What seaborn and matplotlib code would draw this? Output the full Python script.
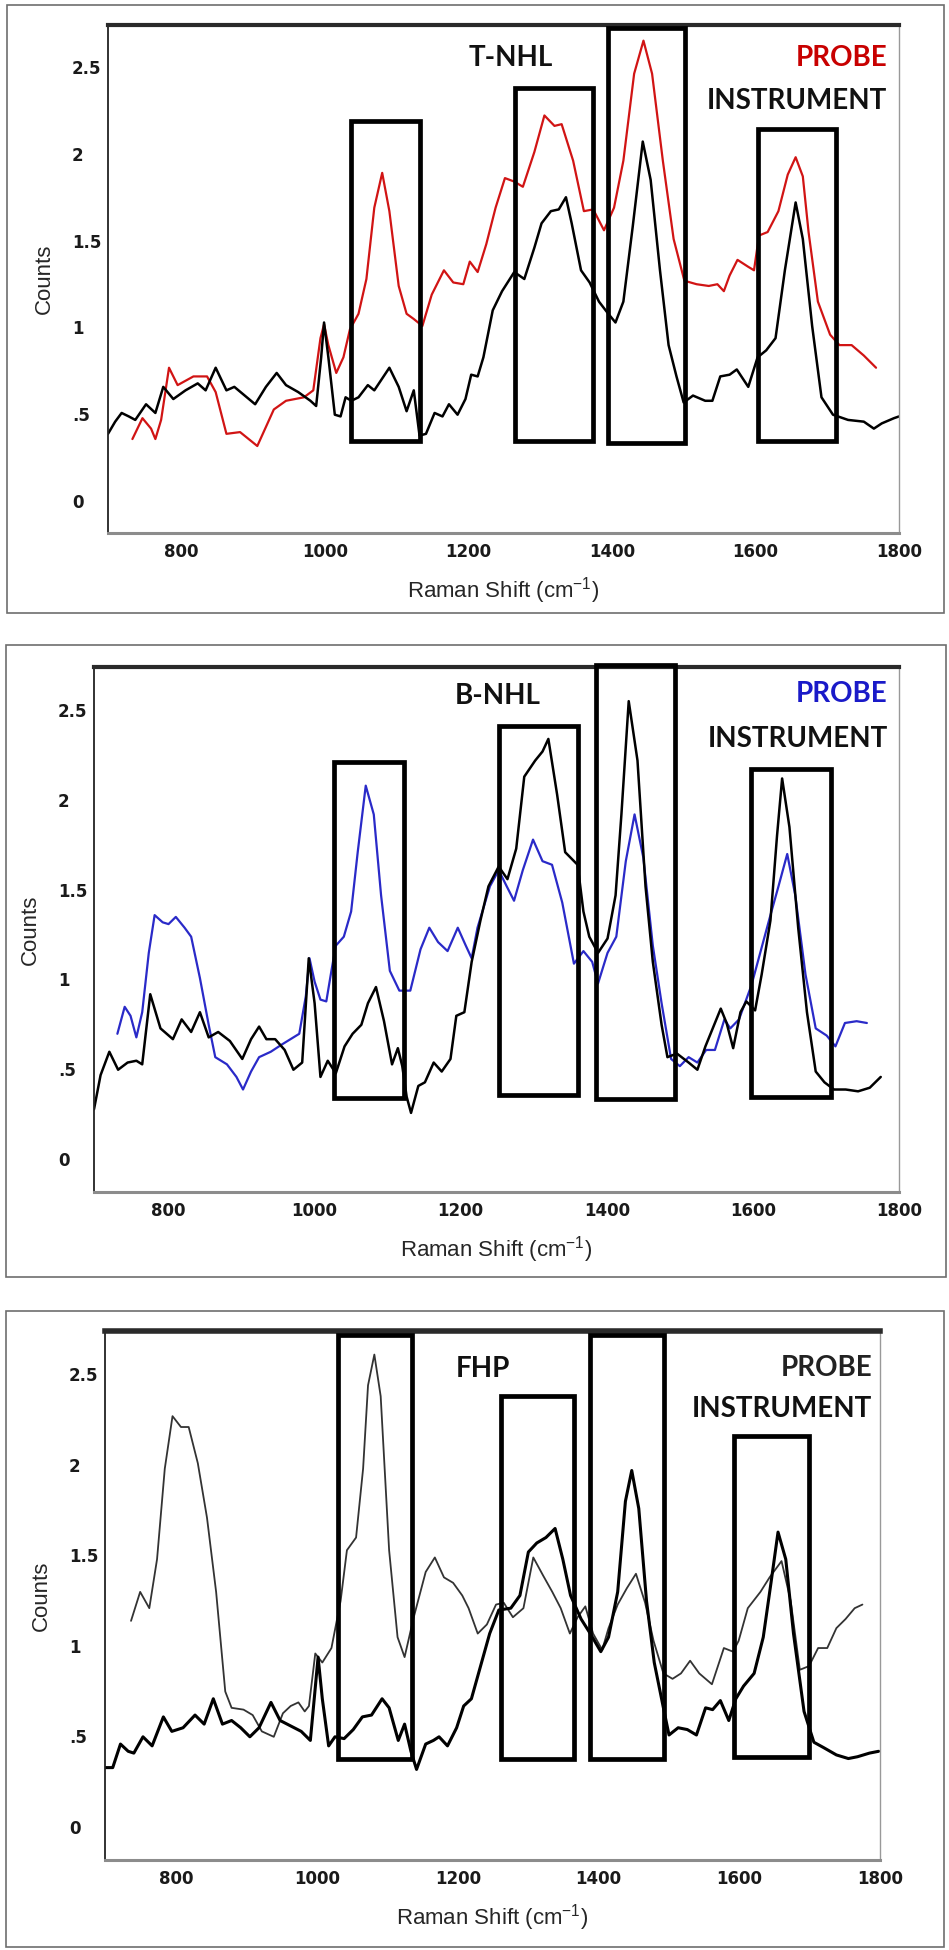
import matplotlib
matplotlib.use("Agg")
import matplotlib.pyplot as plt
from matplotlib.patches import Rectangle
from matplotlib.transforms import ScaledTranslation
import seaborn as sns
import pandas as pd

# ---- data (Raman shift in cm-1, counts) ----
# T-NHL panel
t_probe_x = [732, 746, 758, 764, 772, 783, 795, 817, 836, 848, 863, 882, 906, 929, 946, 971, 984, 994, 999,
             1005, 1016, 1026, 1035, 1047, 1058, 1069, 1080, 1090, 1103, 1114, 1124, 1136, 1149, 1166, 1179,
             1193, 1202, 1213, 1225, 1238, 1251, 1264, 1276, 1292, 1306, 1320, 1330, 1346, 1361, 1374, 1389,
             1403, 1416, 1431, 1444, 1456, 1471, 1486, 1501, 1518, 1535, 1547, 1556, 1564, 1575, 1590, 1598,
             1605, 1617, 1632, 1645, 1656, 1666, 1674, 1687, 1704, 1717, 1734, 1751, 1768]
t_probe_y = [0.33, 0.45, 0.39, 0.33, 0.44, 0.74, 0.64, 0.69, 0.69, 0.60, 0.36, 0.37, 0.29, 0.50, 0.55, 0.57,
             0.61, 0.91, 0.99, 0.87, 0.71, 0.80, 0.96, 1.05, 1.25, 1.66, 1.86, 1.64, 1.21, 1.05, 1.02, 0.98,
             1.16, 1.30, 1.23, 1.22, 1.35, 1.29, 1.45, 1.66, 1.83, 1.81, 1.78, 1.98, 2.19, 2.13, 2.14, 1.93,
             1.64, 1.65, 1.53, 1.66, 1.93, 2.43, 2.62, 2.43, 1.93, 1.48, 1.24, 1.22, 1.21, 1.22, 1.18, 1.27,
             1.36, 1.32, 1.30, 1.50, 1.52, 1.64, 1.85, 1.95, 1.84, 1.52, 1.12, 0.93, 0.87, 0.87, 0.81, 0.74]
t_inst_x = [698, 708, 717, 727, 736, 751, 764, 775, 789, 806, 823, 834, 848, 863, 874, 903, 918, 933, 946,
            963, 980, 988, 995, 999, 1005, 1014, 1022, 1029, 1037, 1047, 1060, 1069, 1090, 1103, 1114, 1124,
            1132, 1141, 1153, 1164, 1173, 1185, 1196, 1204, 1213, 1221, 1234, 1247, 1264, 1278, 1292, 1302,
            1315, 1326, 1336, 1344, 1357, 1369, 1382, 1395, 1405, 1416, 1429, 1443, 1454, 1467, 1479, 1490,
            1500, 1513, 1530, 1540, 1551, 1564, 1574, 1590, 1603, 1615, 1628, 1641, 1656, 1666, 1679, 1692,
            1708, 1729, 1751, 1765, 1776, 1793, 1800]
t_inst_y = [0.36, 0.43, 0.48, 0.46, 0.44, 0.53, 0.48, 0.63, 0.56, 0.61, 0.65, 0.61, 0.74, 0.61, 0.63, 0.53,
            0.63, 0.71, 0.64, 0.60, 0.55, 0.52, 0.80, 1.00, 0.80, 0.47, 0.46, 0.57, 0.55, 0.57, 0.64, 0.61,
            0.74, 0.63, 0.49, 0.61, 0.35, 0.36, 0.48, 0.46, 0.53, 0.47, 0.56, 0.70, 0.69, 0.80, 1.07, 1.18,
            1.29, 1.25, 1.43, 1.57, 1.64, 1.65, 1.72, 1.57, 1.30, 1.23, 1.12, 1.05, 1.00, 1.12, 1.55, 2.04,
            1.82, 1.30, 0.87, 0.69, 0.54, 0.58, 0.55, 0.55, 0.69, 0.70, 0.73, 0.63, 0.80, 0.84, 0.91, 1.30,
            1.69, 1.48, 0.98, 0.57, 0.47, 0.44, 0.43, 0.39, 0.42, 0.45, 0.46]
t_box_x0 = [1037, 1265, 1394, 1604]
t_box_x1 = [1132, 1373, 1502, 1712]
t_box_top = [2.16, 2.35, 2.69, 2.11]
t_box_bottom = [0.32, 0.32, 0.31, 0.32]

# B-NHL panel
b_probe_x = [730, 740, 748, 756, 764, 773, 781, 792, 800, 810, 822, 831, 843, 855, 864, 880, 893, 902, 913,
             924, 940, 955, 967, 979, 988, 993, 1000, 1008, 1016, 1023, 1029, 1040, 1050, 1059, 1070, 1081,
             1091, 1103, 1116, 1131, 1145, 1157, 1169, 1182, 1196, 1207, 1215, 1223, 1240, 1252, 1263, 1273,
             1285, 1299, 1312, 1325, 1339, 1355, 1368, 1380, 1388, 1401, 1413, 1426, 1438, 1450, 1463, 1475,
             1488, 1500, 1512, 1524, 1536, 1548, 1561, 1569, 1581, 1598, 1610, 1622, 1635, 1647, 1658, 1672,
             1686, 1701, 1713, 1726, 1742, 1756]
b_probe_y = [0.67, 0.82, 0.77, 0.65, 0.79, 1.12, 1.33, 1.29, 1.28, 1.32, 1.26, 1.21, 0.98, 0.72, 0.54, 0.50,
             0.43, 0.36, 0.46, 0.54, 0.57, 0.61, 0.64, 0.67, 0.88, 1.09, 0.96, 0.86, 0.85, 1.02, 1.16, 1.21,
             1.35, 1.68, 2.05, 1.89, 1.44, 1.02, 0.91, 0.91, 1.14, 1.26, 1.18, 1.13, 1.26, 1.16, 1.09, 1.26,
             1.49, 1.58, 1.49, 1.41, 1.58, 1.75, 1.63, 1.61, 1.40, 1.06, 1.13, 1.07, 0.95, 1.12, 1.21, 1.63,
             1.89, 1.65, 1.16, 0.84, 0.53, 0.49, 0.54, 0.51, 0.58, 0.58, 0.75, 0.70, 0.75, 0.94, 1.12, 1.30,
             1.49, 1.67, 1.44, 1.00, 0.70, 0.66, 0.60, 0.73, 0.74, 0.73]
b_inst_x = [698, 707, 719, 731, 744, 756, 764, 775, 789, 806, 818, 831, 843, 855, 868, 884, 901, 913, 924,
            934, 946, 959, 971, 983, 992, 1000, 1008, 1018, 1029, 1041, 1052, 1064, 1073, 1084, 1095, 1106,
            1114, 1120, 1126, 1132, 1142, 1151, 1163, 1174, 1186, 1194, 1205, 1215, 1227, 1238, 1252, 1264,
            1276, 1287, 1302, 1312, 1320, 1332, 1343, 1360, 1368, 1376, 1388, 1401, 1412, 1420, 1430, 1442,
            1453, 1463, 1475, 1483, 1496, 1512, 1524, 1535, 1545, 1556, 1564, 1573, 1583, 1591, 1603, 1612,
            1624, 1633, 1640, 1650, 1662, 1674, 1686, 1698, 1711, 1727, 1744, 1760, 1775]
b_inst_y = [0.25, 0.44, 0.57, 0.47, 0.51, 0.52, 0.50, 0.89, 0.70, 0.64, 0.75, 0.68, 0.79, 0.65, 0.68, 0.63,
            0.53, 0.64, 0.71, 0.64, 0.64, 0.58, 0.47, 0.51, 1.09, 0.84, 0.43, 0.52, 0.45, 0.60, 0.67, 0.72,
            0.84, 0.93, 0.74, 0.50, 0.59, 0.49, 0.32, 0.23, 0.38, 0.40, 0.51, 0.46, 0.53, 0.77, 0.79, 1.07,
            1.30, 1.49, 1.60, 1.53, 1.70, 2.10, 2.19, 2.24, 2.31, 2.00, 1.68, 1.61, 1.35, 1.21, 1.12, 1.20,
            1.44, 1.89, 2.52, 2.19, 1.49, 1.07, 0.72, 0.54, 0.56, 0.51, 0.47, 0.60, 0.70, 0.81, 0.73, 0.59,
            0.79, 0.85, 0.80, 1.00, 1.30, 1.77, 2.09, 1.82, 1.26, 0.79, 0.46, 0.40, 0.36, 0.36, 0.35, 0.37,
            0.43]
b_box_x0 = [1027, 1253, 1385, 1598]
b_box_x1 = [1123, 1361, 1493, 1707]
b_box_top = [2.18, 2.38, 2.72, 2.14]
b_box_bottom = [0.315, 0.33, 0.31, 0.32]

# FHP panel
f_probe_x = [735, 748, 761, 772, 783, 794, 806, 817, 830, 843, 856, 869, 878, 895, 908, 921, 938, 951, 962,
             973, 982, 988, 997, 1007, 1020, 1033, 1042, 1055, 1065, 1072, 1081, 1090, 1102, 1114, 1124, 1137,
             1154, 1167, 1180, 1193, 1206, 1215, 1228, 1241, 1254, 1265, 1278, 1293, 1307, 1321, 1334, 1346,
             1359, 1370, 1381, 1392, 1405, 1414, 1427, 1440, 1453, 1466, 1478, 1492, 1505, 1517, 1530, 1543,
             1561, 1578, 1591, 1599, 1612, 1630, 1643, 1660, 1673, 1686, 1699, 1712, 1725, 1738, 1751, 1764,
             1775]
f_probe_y = [1.11, 1.27, 1.18, 1.45, 1.95, 2.24, 2.18, 2.18, 1.98, 1.68, 1.27, 0.72, 0.63, 0.62, 0.59, 0.50,
             0.47, 0.60, 0.64, 0.66, 0.61, 0.64, 0.93, 0.88, 0.96, 1.22, 1.50, 1.57, 1.95, 2.41, 2.58, 2.35,
             1.50, 1.02, 0.91, 1.13, 1.38, 1.46, 1.35, 1.32, 1.25, 1.18, 1.04, 1.09, 1.20, 1.21, 1.13, 1.18,
             1.46, 1.36, 1.27, 1.18, 1.04, 1.13, 1.19, 1.04, 0.95, 1.07, 1.20, 1.29, 1.37, 1.21, 1.00, 0.82,
             0.79, 0.82, 0.89, 0.82, 0.76, 0.96, 0.94, 1.00, 1.18, 1.27, 1.35, 1.44, 1.22, 0.84, 0.86, 0.96,
             0.96, 1.07, 1.12, 1.18, 1.20]
f_inst_x = [698, 709, 720, 731, 739, 752, 765, 781, 793, 809, 826, 839, 852, 865, 878, 891, 904, 917, 934,
            947, 962, 977, 990, 996, 1001, 1007, 1016, 1025, 1038, 1051, 1064, 1077, 1092, 1102, 1115, 1124,
            1133, 1141, 1154, 1165, 1173, 1185, 1198, 1208, 1219, 1232, 1245, 1258, 1275, 1288, 1300, 1312,
            1325, 1338, 1349, 1360, 1375, 1388, 1403, 1414, 1427, 1438, 1447, 1457, 1468, 1479, 1492, 1500,
            1513, 1526, 1539, 1552, 1562, 1573, 1585, 1595, 1606, 1621, 1634, 1645, 1655, 1666, 1677, 1692,
            1706, 1720, 1738, 1755, 1768, 1785, 1798]
f_inst_y = [0.30, 0.30, 0.43, 0.39, 0.38, 0.47, 0.42, 0.58, 0.50, 0.52, 0.59, 0.54, 0.68, 0.54, 0.56, 0.52,
            0.47, 0.52, 0.66, 0.56, 0.53, 0.50, 0.45, 0.70, 0.91, 0.68, 0.42, 0.47, 0.46, 0.51, 0.58, 0.59,
            0.68, 0.63, 0.45, 0.54, 0.39, 0.29, 0.43, 0.45, 0.47, 0.42, 0.52, 0.64, 0.68, 0.86, 1.04, 1.17,
            1.18, 1.25, 1.49, 1.54, 1.57, 1.62, 1.45, 1.25, 1.12, 1.04, 0.94, 1.02, 1.27, 1.77, 1.94, 1.73,
            1.22, 0.88, 0.63, 0.48, 0.52, 0.51, 0.48, 0.63, 0.62, 0.67, 0.56, 0.68, 0.75, 0.82, 1.02, 1.32,
            1.60, 1.45, 1.04, 0.61, 0.44, 0.41, 0.37, 0.35, 0.36, 0.38, 0.39]
f_box_x0 = [1029, 1261, 1388, 1593]
f_box_x1 = [1135, 1365, 1493, 1699]
f_box_top = [2.69, 2.35, 2.69, 2.13]
f_box_bottom = [0.35, 0.35, 0.35, 0.36]

y_ticks = [0, 0.5, 1, 1.5, 2, 2.5]
y_tick_labels = ['0', '.5', '1', '1.5', '2', '2.5']
x_ticks = [800, 1000, 1200, 1400, 1600, 1800]

sns.set_style('white')
plt.rcParams['font.family'] = ['Liberation Sans', 'DejaVu Sans']
plt.rcParams['mathtext.default'] = 'regular'

fig = plt.figure(figsize=(9.49, 19.5), dpi=100)

# pixel rects: left, top, right, bottom
panels = [
    dict(name='T-NHL', ax_px=(108, 25, 899, 533), frame_px=(7, 5, 944, 613),
         px=t_probe_x, py=t_probe_y, ix=t_inst_x, iy=t_inst_y,
         bx0=t_box_x0, bx1=t_box_x1, btop=t_box_top, bbot=t_box_bottom,
         probe_line='#d11414', probe_text='#c80000', probe_lw=1.6, inst_lw=1.8,
         xlim=(698, 1800), label_x=1259, label_y=2.52, top_lw=3.0,
         text_x=0.985, probe_ty=0.935, inst_ty=0.85),
    dict(name='B-NHL', ax_px=(94, 667, 899, 1192), frame_px=(6, 645, 946, 1277),
         px=b_probe_x, py=b_probe_y, ix=b_inst_x, iy=b_inst_y,
         bx0=b_box_x0, bx1=b_box_x1, btop=b_box_top, bbot=b_box_bottom,
         probe_line='#2a2ac8', probe_text='#1a1ac8', probe_lw=1.6, inst_lw=1.8,
         xlim=(698, 1790), label_x=1250, label_y=2.55, top_lw=3.0,
         text_x=0.986, probe_ty=0.948, inst_ty=0.862),
    dict(name='FHP', ax_px=(105, 1331, 880, 1860), frame_px=(6, 1311, 944, 1947),
         px=f_probe_x, py=f_probe_y, ix=f_inst_x, iy=f_inst_y,
         bx0=f_box_x0, bx1=f_box_x1, btop=f_box_top, bbot=f_box_bottom,
         probe_line='#333333', probe_text='#222222', probe_lw=1.3, inst_lw=2.2,
         xlim=(698, 1800), label_x=1236, label_y=2.50, top_lw=4.0,
         text_x=0.99, probe_ty=0.93, inst_ty=0.853),
]

W, H = 949, 1950
for p in panels:
    l, t, r, b = p['ax_px']
    ax = fig.add_axes([l / W, 1 - b / H, (r - l) / W, (b - t) / H])

    fl, ft, fr, fb = p['frame_px']
    fig.patches.append(Rectangle((fl / W, 1 - fb / H), (fr - fl) / W, (fb - ft) / H,
                                 transform=fig.transFigure, fill=False,
                                 edgecolor='#6e6e6e', linewidth=1.2))

    probe = pd.DataFrame({'shift': p['px'], 'counts': p['py']})
    inst = pd.DataFrame({'shift': p['ix'], 'counts': p['iy']})
    sns.lineplot(data=probe, x='shift', y='counts', ax=ax, color=p['probe_line'],
                 linewidth=p['probe_lw'], estimator=None, sort=False, solid_joinstyle='round')
    sns.lineplot(data=inst, x='shift', y='counts', ax=ax, color='black',
                 linewidth=p['inst_lw'], estimator=None, sort=False, solid_joinstyle='round')

    for x0, x1, top, bot in zip(p['bx0'], p['bx1'], p['btop'], p['bbot']):
        ax.add_patch(Rectangle((x0, bot), x1 - x0, top - bot, fill=False,
                               edgecolor='black', linewidth=3.4, clip_on=False, zorder=5))

    ax.set_xlim(*p['xlim'])
    ax.set_ylim(-0.21, 2.71)
    ax.set_xticks(x_ticks)
    ax.set_xticklabels([str(v) for v in x_ticks], family='Liberation Sans Narrow',
                       fontsize=12, fontweight='bold', color='#1a1a1a')
    ax.set_yticks(y_ticks)
    ax.set_yticklabels(y_tick_labels, family='Liberation Sans Narrow', fontsize=12,
                       fontweight='bold', color='#1a1a1a', ha='left')
    ax.tick_params(axis='y', direction='out', length=3, width=1, color='#666666', pad=23)
    ax.tick_params(axis='x', direction='out', length=3, width=1, color='#777777', pad=4)
    # y labels sit a little below their ticks in the original
    shift_down = ScaledTranslation(0, -5 / 100, fig.dpi_scale_trans)
    for lab in ax.get_yticklabels():
        lab.set_transform(lab.get_transform() + shift_down)

    ax.set_xlabel('Raman Shift (cm$^{-1}$)', fontsize=16, labelpad=10)
    ax.set_ylabel('Counts', fontsize=16, labelpad=12)

    for side in ['top', 'bottom', 'left', 'right']:
        ax.spines[side].set_visible(True)
    ax.spines['top'].set_linewidth(p['top_lw'])
    ax.spines['top'].set_color('#2a2a2a')
    ax.spines['bottom'].set_linewidth(2.2)
    ax.spines['bottom'].set_color('#8c8c8c')
    ax.spines['left'].set_linewidth(1.3)
    ax.spines['left'].set_color('#222222')
    ax.spines['right'].set_linewidth(1.0)
    ax.spines['right'].set_color('#999999')

    # labels drawn on the plot
    ax.text(p['label_x'], p['label_y'], p['name'], ha='center', va='center',
            fontsize=20, fontweight='bold', family='Lato', color='#111111')
    ax.text(p['text_x'], p['probe_ty'], 'PROBE', transform=ax.transAxes, ha='right', va='center',
            fontsize=20, fontweight='bold', family='Lato', color=p['probe_text'])
    ax.text(p['text_x'], p['inst_ty'], 'INSTRUMENT', transform=ax.transAxes, ha='right', va='center',
            fontsize=20, fontweight='bold', family='Lato', color='#111111')

fig.savefig('out.png', dpi=100)
